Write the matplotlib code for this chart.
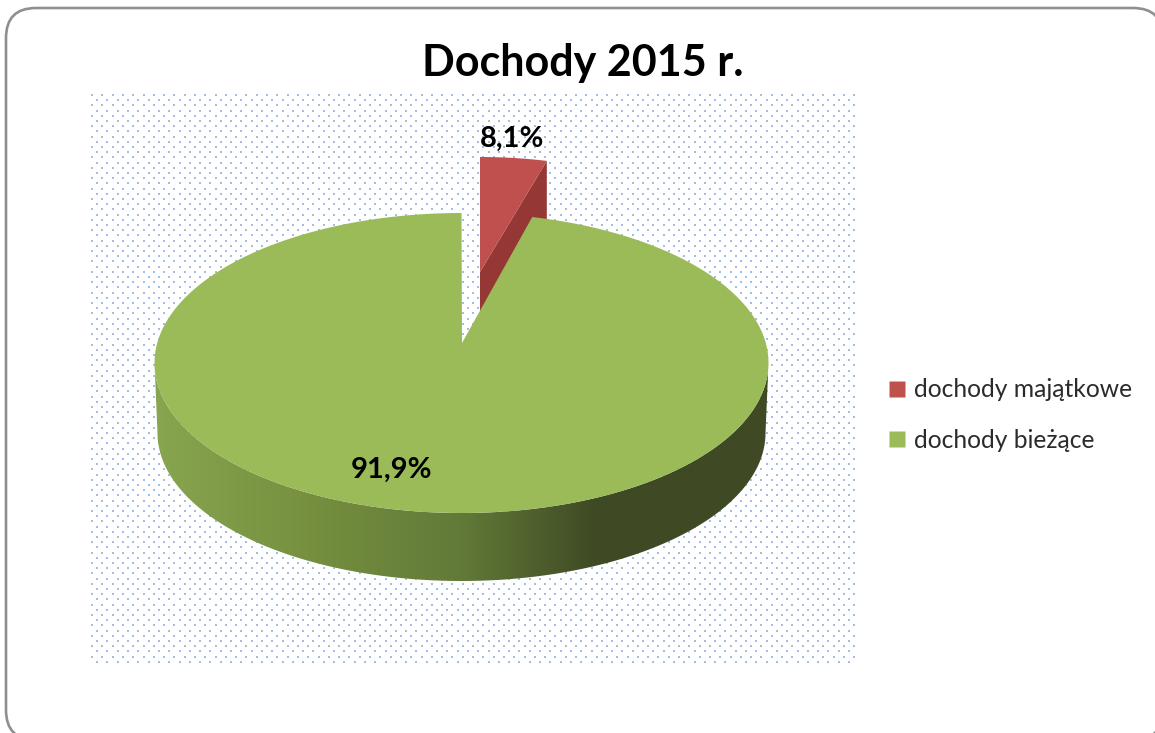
import numpy as np
import matplotlib
matplotlib.use("Agg")
import matplotlib.pyplot as plt
from matplotlib.patches import FancyBboxPatch, Polygon
from matplotlib.lines import Line2D
from matplotlib.colors import LinearSegmentedColormap

# ---- data ----
title = "Dochody 2015 r."
categories = ["dochody majątkowe", "dochody bieżące"]
labelled_shares = [8.1, 91.9]          # percentages printed on the chart
drawn_shares = [3.7, 96.3]             # share of the ellipse the slices occupy in the picture
colors_top = ["#C0504D", "#9BBB59"]
color_red_side = "#953735"
wall_stops = [(0.0, "#88A54F"), (0.25, "#76903F"), (0.5, "#627A38"), (0.72, "#3F4A24"), (1.0, "#3F4A24")]

W, H = 1155, 733
fig = plt.figure(figsize=(W / 100, H / 100), dpi=100, facecolor="white")
ax = fig.add_axes([0, 0, 1, 1])
ax.set_xlim(0, W)
ax.set_ylim(H, 0)
ax.axis("off")

# outer frame (runs past the right and bottom edges of the picture)
ax.add_patch(FancyBboxPatch((6, 8), 1157, 732, boxstyle="round,pad=0,rounding_size=30",
                            fc="white", ec="#8F8F8F", lw=1.9, zorder=0, clip_on=True))

# dotted plot-area fill
dx, dy = 10.3, 5.2
xs, ys = [], []
for i, y in enumerate(np.arange(95, 666, dy)):
    for x in np.arange(92 + (i % 2) * dx / 2, 855, dx):
        xs.append(x)
        ys.append(y)
ax.scatter(xs, ys, s=1.2, marker="s", c="#A3BEE3", linewidths=0, zorder=1)


def rim(t0, t1, cx, cy, rx, ry, n=240):
    t = np.radians(np.linspace(t0, t1, n))
    return cx + rx * np.sin(t), cy - ry * np.cos(t)


sweep = drawn_shares[0] * 3.6

# exploded slice (red)
rx_r, ry_r = 290, 145
cx_r, cy_r = 480.0, 302.0
apex_r = (480.0, 272.0)
depth_r = 66
xr, yr = rim(0, sweep, cx_r, cy_r, rx_r, ry_r)
side = [(xr[-1], yr[-1]), apex_r, (apex_r[0], apex_r[1] + depth_r), (xr[-1], yr[-1] + depth_r)]
ax.add_patch(Polygon(side, closed=True, fc=color_red_side, ec="none", zorder=2))
ax.fill(np.r_[apex_r[0], xr], np.r_[apex_r[1], yr], fc=colors_top[0], ec="none", zorder=3)

# main slice wall (green)
cx, cy, rx, ry = 461.5, 363.0, 307.0, 150.0
cxb, cyb, rxb, ryb = 461.5, 433.0, 304.0, 148.0
xt, yt = rim(90, 270, cx, cy, rx, ry)
xb, yb = rim(270, 90, cxb, cyb, rxb, ryb)
wall = Polygon(np.c_[np.r_[xt, xb], np.r_[yt, yb]], closed=True, fc="none", ec="none", zorder=4)
ax.add_patch(wall)
cmap = LinearSegmentedColormap.from_list("wall", wall_stops)
grad = np.linspace(0, 1, 256)[None, :]
im = ax.imshow(grad, extent=(154, 768, 600, 340), cmap=cmap, aspect="auto", zorder=4)
im.set_clip_path(wall)
ax.set_xlim(0, W)
ax.set_ylim(H, 0)

# main slice top
apex = (462.0, 343.0)
xg, yg = rim(sweep, 360, cx, cy, rx, ry, n=720)
ax.fill(np.r_[apex[0], xg], np.r_[apex[1], yg], fc=colors_top[1], ec="none", zorder=5)

# labels
fmt = lambda v: f"{v:.1f}%".replace(".", ",")
lab_font = dict(family="Lato", fontweight="bold", fontsize=21, color="black", zorder=6,
                ha="center", va="center")
ax.text(512, 139, fmt(labelled_shares[0]), **lab_font)
ax.text(392, 470, fmt(labelled_shares[1]), **lab_font)

ax.text(583, 63, title, family="Lato", fontweight="bold", fontsize=31, color="black",
        ha="center", va="center", zorder=6)

handles = [Line2D([], [], ls="none", marker="s", ms=11.5, mfc=c, mec="none") for c in colors_top]
ax.legend(handles, categories, loc="center left", bbox_to_anchor=(885 / W, 1 - 415 / H),
          frameon=False, prop={"family": "Lato", "size": 17.7}, labelcolor="#2b2b2b",
          handlelength=1.0, handletextpad=0.2, labelspacing=1.12, borderpad=0, borderaxespad=0)

fig.savefig("out.png", dpi=100, facecolor="white")
